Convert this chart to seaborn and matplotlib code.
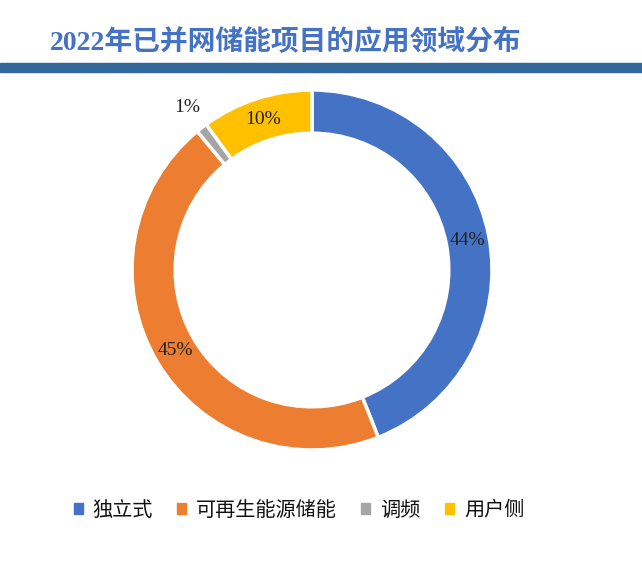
import numpy as np
import matplotlib
matplotlib.use("Agg")
import matplotlib.pyplot as plt
import seaborn as sns

categories = ["独立式", "可再生能源储能", "调频", "用户侧"]
values = [44, 45, 1, 10]
colors = ["#4472C4", "#ED7D31", "#A5A5A5", "#FFC000"]
title = "2022年已并网储能项目的应用领域分布"

sns.set_theme(style="white")
plt.rcParams['font.family'] = ['Liberation Serif', 'Noto Sans CJK SC', 'DejaVu Sans']

fig = plt.figure(figsize=(6.42, 5.68), dpi=100)
fig.patch.set_facecolor("white")

# title & band
fig.text(50/642, 1-42/568, title, color="#4472C4", fontsize=20, fontweight="bold",
         va="center", ha="left", family=['Liberation Serif', 'Noto Sans CJK SC'])
band = plt.Rectangle((0, 1-72/568), 1, 9/568, transform=fig.transFigure,
                     color="#336699", zorder=5)
fig.patches.append(band)

ax = fig.add_axes([(312-180)/642, (568-450)/568, 360/642, 360/568])
wedges, texts, autotexts = ax.pie(values, colors=colors, startangle=90, counterclock=False,
       radius=1, wedgeprops=dict(width=0.24, edgecolor="white", linewidth=2.5),
       autopct="%d%%", pctdistance=0.88,
       textprops=dict(fontsize=14, color="#222222", family="Liberation Serif"))
# move small slice label outside
small = int(np.argmin(values))
w = wedges[small]
ang = np.deg2rad((w.theta1 + w.theta2) / 2)
autotexts[small].set_position((1.08*np.cos(ang) - 0.03, 1.08*np.sin(ang) + 0.05))
ax.set_xlim(-1, 1)
ax.set_ylim(-1, 1)
ax.set_aspect("equal")
ax.axis("off")

handles = [plt.Rectangle((0, 0), 1, 1, color=c) for c in colors]
fig.legend(handles, categories, loc="center", bbox_to_anchor=(299/642, 1-510/568),
           ncol=4, frameon=False, handlelength=0.45, handleheight=0.45,
           handletextpad=0.5, columnspacing=1.2, labelcolor="#111111",
           prop=dict(family=['Noto Sans CJK SC'], size=14.5))

fig.savefig("out.png", dpi=100, facecolor="white")
